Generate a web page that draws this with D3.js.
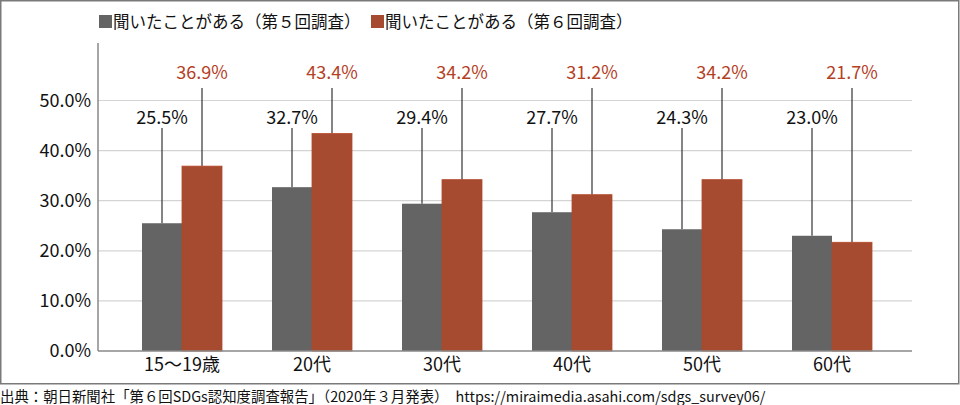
<!DOCTYPE html>
<html>
<head>
<meta charset="utf-8">
<script src="https://cdn.jsdelivr.net/npm/d3@7"></script>
<style>
    body { margin: 0; background: #fff; }
    text { font-family: "Noto Sans CJK JP", "Noto Sans", sans-serif; }
</style>
</head>
<body>
<div id="chart"></div>
<script>
// age groups
let categories = ["15〜19歳", "20代", "30代", "40代", "50代", "60代"];
// series names
let seriesNames = ["聞いたことがある（第５回調査）", "聞いたことがある（第６回調査）"];
// % values per survey
let survey5 = [25.5, 32.7, 29.4, 27.7, 24.3, 23.0];
let survey6 = [36.9, 43.4, 34.2, 31.2, 34.2, 21.7];
// y ticks
let yTicks = [0, 10, 20, 30, 40, 50];

let sourceText = "出典：朝日新聞社「第６回SDGs認知度調査報告」（2020年３月発表）　https://miraimedia.asahi.com/sdgs_survey06/";

let colors = ["#646464", "#a64b30"];
let labelColors = ["#111", "#b4401f"];

let W = 960, H = 405;
let svg = d3.select("#chart").append("svg")
    .attr("width", W)
    .attr("height", H);

// outer frame
svg.append("rect")
    .attr("x", 0.75).attr("y", 0.75)
    .attr("width", 958).attr("height", 383)
    .attr("fill", "none")
    .attr("stroke", "#7a7a7a")
    .attr("stroke-width", 1.5);

// scales
let plotLeft = 98, plotRight = 912;
let y = d3.scaleLinear().domain([0, 50]).range([351, 100.5]);
let x0 = d3.scaleBand().domain(categories).range([117, 897]);
let x1 = d3.scaleBand().domain([0, 1])
    .range([x0.bandwidth() / 2 - 40, x0.bandwidth() / 2 + 40]);

// gridlines
svg.append("g")
    .selectAll("line")
    .data(yTicks.filter(d => d > 0))
    .join("line")
    .attr("x1", plotLeft).attr("x2", plotRight)
    .attr("y1", d => y(d)).attr("y2", d => y(d))
    .attr("stroke", "#d4d4d4")
    .attr("stroke-width", 1.2);

// y axis labels
svg.append("g")
    .selectAll("text")
    .data(yTicks)
    .join("text")
    .attr("x", 91)
    .attr("y", d => y(d))
    .attr("dy", "0.36em")
    .attr("text-anchor", "end")
    .attr("font-size", 18)
    .attr("fill", "#111")
    .text(d => d3.format(".1f")(d) + "%");

// bars + leader lines + labels
let series = [survey5, survey6];
let labelBase = [123.5, 79];
let lineTop = [128, 88];

series.forEach(function (vals, s) {
    let g = svg.append("g").attr("class", "series-" + s);
    let rows = vals.map((v, i) => ({cat: categories[i], v: v}));

    g.selectAll("line")
        .data(rows)
        .join("line")
        .attr("x1", d => x0(d.cat) + x1(s) + x1.bandwidth() / 2)
        .attr("x2", d => x0(d.cat) + x1(s) + x1.bandwidth() / 2)
        .attr("y1", lineTop[s])
        .attr("y2", d => y(d.v))
        .attr("stroke", "#333")
        .attr("stroke-width", 1.2);

    g.selectAll("rect")
        .data(rows)
        .join("rect")
        .attr("x", d => x0(d.cat) + x1(s))
        .attr("y", d => y(d.v))
        .attr("width", x1.bandwidth())
        .attr("height", d => y(0) - y(d.v))
        .attr("fill", colors[s])
        .attr("stroke", s === 1 ? "#b5472a" : "none")
        .attr("stroke-width", 0.8);

    g.selectAll("text")
        .data(rows)
        .join("text")
        .attr("x", d => x0(d.cat) + x1(s) + x1.bandwidth() / 2)
        .attr("y", labelBase[s])
        .attr("text-anchor", "middle")
        .attr("font-size", 18)
        .attr("fill", labelColors[s])
        .text(d => d.v.toFixed(1) + "%");
});

// axes lines
svg.append("line")
    .attr("x1", plotLeft).attr("x2", plotLeft)
    .attr("y1", 43).attr("y2", y(0))
    .attr("stroke", "#888").attr("stroke-width", 1.5);
svg.append("line")
    .attr("x1", plotLeft).attr("x2", plotRight)
    .attr("y1", y(0)).attr("y2", y(0))
    .attr("stroke", "#888").attr("stroke-width", 1.5);

// category labels
svg.append("g")
    .selectAll("text")
    .data(categories)
    .join("text")
    .attr("x", d => x0(d) + x0.bandwidth() / 2)
    .attr("y", 371)
    .attr("text-anchor", "middle")
    .attr("font-size", 18)
    .attr("fill", "#111")
    .text(d => d);

// legend
let legendX = [99, 371];
let legend = svg.append("g").attr("class", "legend");
seriesNames.forEach(function (name, s) {
    legend.append("rect")
        .attr("x", legendX[s]).attr("y", 15)
        .attr("width", 13).attr("height", 13)
        .attr("fill", colors[s]);
    legend.append("text")
        .attr("x", legendX[s] + 14)
        .attr("y", 28)
        .attr("font-size", 16.5)
        .attr("fill", "#111")
        .text(name);
});

// source line
svg.append("text")
    .attr("x", 0)
    .attr("y", 402)
    .attr("font-size", 14.4)
    .attr("fill", "#111")
    .text(sourceText);
</script>
</body>
</html>
